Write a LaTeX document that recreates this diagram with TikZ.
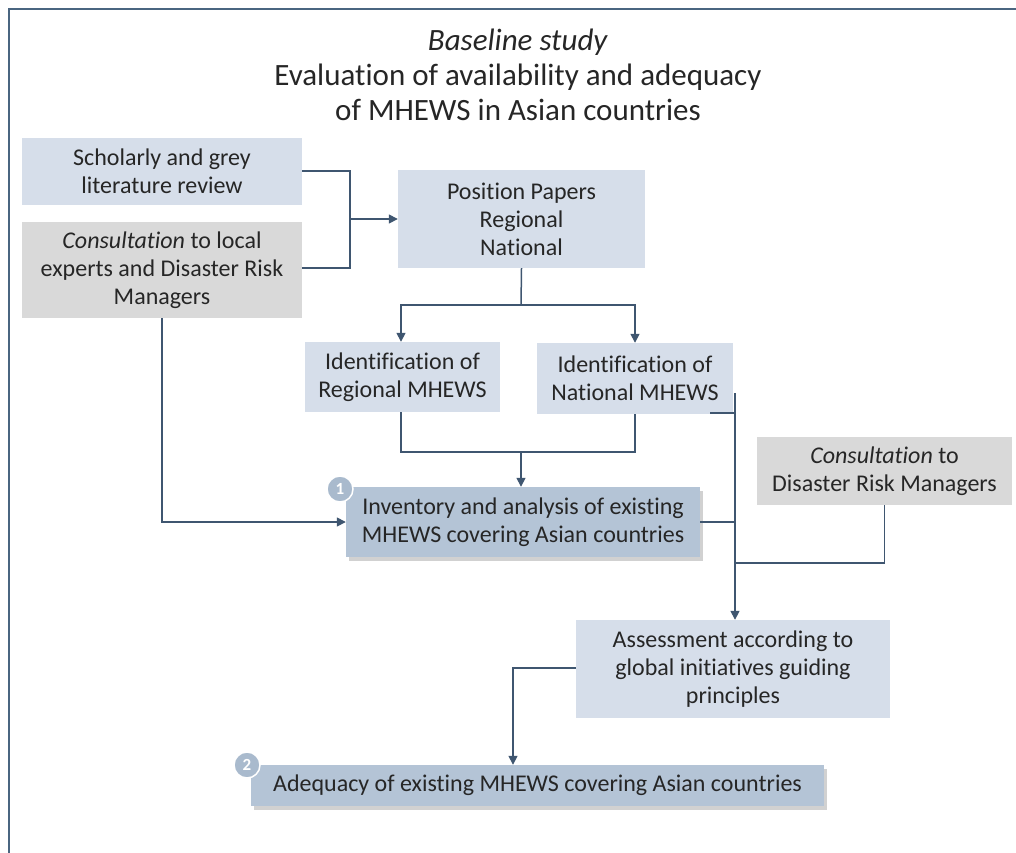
\documentclass[tikz,border=0pt]{standalone}
\usepackage{fontspec}
\setmainfont{Carlito}[Ligatures=NoCommon]
\usetikzlibrary{arrows.meta,shadows,calc}
\definecolor{lnc}{HTML}{3F5670}
\definecolor{lblue}{HTML}{D6DEEA}
\definecolor{dblue}{HTML}{B4C4D6}
\definecolor{lgray}{HTML}{D9D9D9}
\definecolor{badge}{HTML}{A9BACD}
\definecolor{txt}{HTML}{262626}
\definecolor{frame}{HTML}{4A6580}
\begin{document}
\begin{tikzpicture}[x=1pt,y=-1pt,
  box/.style={inner sep=0pt,align=center,text=txt,font=\fontsize{24}{28}\selectfont},
  bluebox/.style={box,fill=lblue},
  graybox/.style={box,fill=lgray},
  darkbox/.style={box,fill=dblue,drop shadow={shadow xshift=3pt,shadow yshift=-4pt,opacity=0.3,fill=black!60}},
  badgestyle/.style={circle,fill=badge,draw=white,line width=1.5pt,minimum size=26pt,inner sep=0pt,text=white,font=\fontsize{17}{17}\selectfont\bfseries},
  conn/.style={draw=lnc,line width=1.5pt},
  arr/.style={conn,-{Triangle[length=9pt,width=9pt]}}
]
\useasboundingbox (0,0) rectangle (1016,852);
\begin{scope}
\clip (0,0) rectangle (1016,852);
\draw[frame,line width=2.2pt] (9,870) -- (9,9) -- (1030,9);
\end{scope}

\node[text=txt,align=center,font=\fontsize{31}{35}\selectfont] (title) at (518,75)
  {\textit{Baseline study}\\Evaluation of availability and adequacy\\of MHEWS in Asian countries};

\node[bluebox,minimum width=280pt,minimum height=67pt] (sch) at (162,171.5) {Scholarly and grey\\literature review};
\node[graybox,minimum width=280pt,minimum height=96pt] (loc) at (162,270) {\textit{Consultation} to local\\experts and Disaster Risk\\Managers};
\node[bluebox,minimum width=247pt,minimum height=98pt] (pos) at (521.5,219) {Position Papers\\Regional\\National};
\node[bluebox,minimum width=195pt,minimum height=70pt] (reg) at (402.5,377) {Identification of\\Regional MHEWS};
\node[bluebox,minimum width=196pt,minimum height=71pt] (nat) at (635,378.5) {Identification of\\National MHEWS};
\node[darkbox,minimum width=354pt,minimum height=70pt] (inv) at (523,522) {Inventory and analysis of existing\\MHEWS covering Asian countries};
\node[graybox,minimum width=255pt,minimum height=68pt] (drm) at (884.5,471) {\textit{Consultation} to\\Disaster Risk Managers};
\node[bluebox,minimum width=314pt,minimum height=98pt] (ass) at (733,669) {Assessment according to\\global initiatives guiding\\principles};
\node[darkbox,minimum width=573pt,minimum height=41pt] (adq) at (537.5,785.5) {Adequacy of existing MHEWS covering Asian countries};

\node[badgestyle] (b1) at (340,489) {1};
\node[badgestyle] (b2) at (247,765) {2};

% junction coordinates
\coordinate (j1) at (350,219);
\coordinate (j2) at (521,305);
\coordinate (j3) at (521,452);
\coordinate (rx) at (735,393);
\coordinate (j4) at (735,563);
\coordinate (j5) at (513,668);

% literature + consultation -> position papers
\draw[conn] (sch.east |- 0,171) -| (j1);
\draw[conn] (loc.east |- 0,268) -| (j1);
\draw[arr] (j1) -- (pos.west);

% position papers -> identification
\draw[conn] (pos.south) -- (j2);
\draw[arr] (j2) -| (reg.north -| 401,0);
\draw[arr] (j2) -| (nat.north);

% identification -> inventory
\draw[conn] (reg.south -| 401,0) |- (j3);
\draw[conn] (nat.south) |- (j3);
\draw[arr] (j3) -- (inv.north -| j3);

% local consultation -> inventory
\draw[arr] (loc.south) |- (inv.west);

% right collector -> assessment
\draw[conn] (710,413) -- (rx |- 0,413);
\draw[arr] (rx) -- (ass.north -| rx);
\draw[conn] (inv.east) -- (inv.east -| rx);
\draw[conn] (drm.south) |- (j4);

% assessment -> adequacy
\draw[arr] (ass.west |- j5) -| (adq.north -| j5);
\end{tikzpicture}
\end{document}
